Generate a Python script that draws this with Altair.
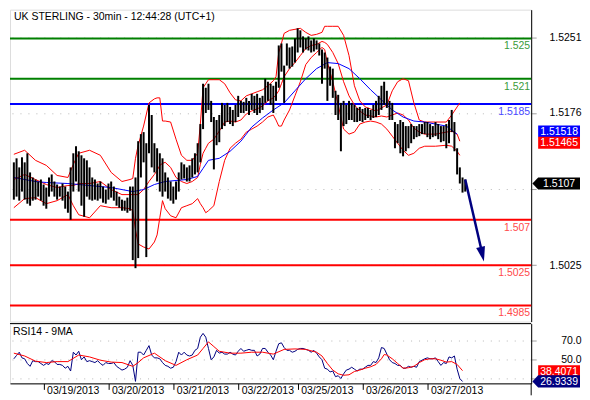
import altair as alt
import pandas as pd

FONT = "Liberation Sans"
TITLE = "UK STERLING - 30min - 12:44:28 (UTC+1)"
RSI_TITLE = "RSI14 - 9MA"

# hourly price bars (hour index from start of the window)
HIGH = [1.5127, 1.5131, 1.5122, 1.5132, 1.5127, 1.5136, 1.5117, 1.5112, 1.5110, 1.5108,
        1.5110, 1.5105, 1.5102, 1.5112, 1.5115, 1.5108, 1.5105, 1.5103, 1.5106, 1.5103,
        1.5098, 1.5122, 1.5136, 1.5143, 1.5138, 1.5134, 1.5131, 1.5129, 1.5122, 1.5112,
        1.5110, 1.5106, 1.5108, 1.5103, 1.5100, 1.5106, 1.5108, 1.5103, 1.5098, 1.5093,
        1.5090, 1.5089, 1.5092, 1.5103, 1.5103, 1.5112, 1.5148, 1.5155, 1.5157, 1.5146,
        1.5184, 1.5174, 1.5146, 1.5141, 1.5136, 1.5131, 1.5117, 1.5112, 1.5108, 1.5103,
        1.5108, 1.5117, 1.5127, 1.5125, 1.5122, 1.5124, 1.5131, 1.5136, 1.5146, 1.5165,
        1.5205, 1.5201, 1.5205, 1.5188, 1.5172, 1.5169, 1.5174, 1.5186, 1.5184, 1.5186,
        1.5182, 1.5179, 1.5184, 1.5193, 1.5188, 1.5187, 1.5191, 1.5188, 1.5195, 1.5193,
        1.5195, 1.5191, 1.5193, 1.5210, 1.5207, 1.5205, 1.5203, 1.5207, 1.5243, 1.5245,
        1.5223, 1.5245, 1.5241, 1.5242, 1.5250, 1.5260, 1.5258, 1.5252, 1.5250, 1.5252,
        1.5248, 1.5250, 1.5248, 1.5245, 1.5239, 1.5236, 1.5231, 1.5222, 1.5220, 1.5198,
        1.5194, 1.5186, 1.5188, 1.5184, 1.5188, 1.5186, 1.5184, 1.5181, 1.5182, 1.5180,
        1.5181, 1.5181, 1.5179, 1.5184, 1.5188, 1.5193, 1.5203, 1.5207, 1.5198, 1.5188,
        1.5186, 1.5167, 1.5165, 1.5169, 1.5167, 1.5163, 1.5163, 1.5165, 1.5163, 1.5163,
        1.5165, 1.5165, 1.5167, 1.5167, 1.5165, 1.5163, 1.5167, 1.5165, 1.5163, 1.5163,
        1.5165, 1.5169, 1.5179, 1.5167, 1.5141, 1.5122, 1.5112, 1.5110]
LOW = [1.5090, 1.5093, 1.5089, 1.5098, 1.5090, 1.5086, 1.5084, 1.5089, 1.5090, 1.5093,
       1.5089, 1.5084, 1.5081, 1.5093, 1.5098, 1.5093, 1.5090, 1.5093, 1.5089, 1.5081,
       1.5077, 1.5070, 1.5098, 1.5108, 1.5098, 1.5084, 1.5073, 1.5093, 1.5090, 1.5089,
       1.5090, 1.5089, 1.5091, 1.5087, 1.5086, 1.5090, 1.5092, 1.5089, 1.5084, 1.5082,
       1.5079, 1.5079, 1.5077, 1.5079, 1.5030, 1.5022, 1.5032, 1.5112, 1.5127, 1.5033,
       1.5136, 1.5122, 1.5117, 1.5108, 1.5098, 1.5093, 1.5098, 1.5091, 1.5089, 1.5086,
       1.5090, 1.5098, 1.5110, 1.5111, 1.5108, 1.5108, 1.5112, 1.5115, 1.5117, 1.5127,
       1.5160, 1.5176, 1.5179, 1.5167, 1.5120, 1.5144, 1.5147, 1.5160, 1.5163, 1.5167,
       1.5165, 1.5163, 1.5167, 1.5172, 1.5176, 1.5176, 1.5178, 1.5174, 1.5179, 1.5176,
       1.5174, 1.5176, 1.5179, 1.5186, 1.5188, 1.5184, 1.5176, 1.5188, 1.5201, 1.5217,
       1.5186, 1.5223, 1.5220, 1.5222, 1.5226, 1.5236, 1.5241, 1.5236, 1.5239, 1.5238,
       1.5236, 1.5237, 1.5239, 1.5233, 1.5205, 1.5220, 1.5188, 1.5203, 1.5191, 1.5174,
       1.5169, 1.5138, 1.5163, 1.5165, 1.5169, 1.5169, 1.5167, 1.5167, 1.5168, 1.5167,
       1.5169, 1.5171, 1.5169, 1.5171, 1.5172, 1.5174, 1.5179, 1.5184, 1.5181, 1.5169,
       1.5169, 1.5141, 1.5146, 1.5136, 1.5133, 1.5138, 1.5141, 1.5146, 1.5150, 1.5152,
       1.5153, 1.5155, 1.5155, 1.5152, 1.5150, 1.5152, 1.5153, 1.5150, 1.5147, 1.5148,
       1.5141, 1.5146, 1.5157, 1.5138, 1.5115, 1.5106, 1.5097, 1.5098]
HOURS = list(range(len(HIGH)))

# Bollinger bands (red)
BAND_H = [0, 4, 8, 12, 16, 20, 22, 24, 28, 32,
          36, 40, 43, 44, 45, 46, 48, 50, 52, 53,
          54, 55, 56, 58, 60, 62, 64, 66, 68, 69,
          70, 71, 72, 74, 76, 78, 80, 82, 84, 86,
          88, 90, 92, 94, 96, 97, 98, 99, 100, 102,
          104, 106, 108, 110, 112, 114, 115, 116, 118, 120,
          122, 124, 126, 128, 130, 132, 134, 136, 138, 140,
          142, 144, 146, 148, 150, 152, 156, 160, 162, 164, 165]
UPPER = [1.5135, 1.5139, 1.5129, 1.5124, 1.5114, 1.5112, 1.5125, 1.5136, 1.5139, 1.5134,
         1.5117, 1.5108, 1.5110, 1.5111, 1.5131, 1.5144, 1.5163, 1.5186, 1.5190, 1.5191,
         1.5191, 1.5168, 1.5168, 1.5167, 1.5150, 1.5134, 1.5129, 1.5129, 1.5136, 1.5165,
         1.5201, 1.5205, 1.5209, 1.5209, 1.5209, 1.5205, 1.5196, 1.5189, 1.5188, 1.5193,
         1.5195, 1.5197, 1.5199, 1.5203, 1.5208, 1.5212, 1.5236, 1.5245, 1.5255, 1.5258,
         1.5259, 1.5260, 1.5256, 1.5253, 1.5254, 1.5256, 1.5262, 1.5262, 1.5262, 1.5262,
         1.5253, 1.5233, 1.5203, 1.5188, 1.5182, 1.5180, 1.5178, 1.5181, 1.5184, 1.5198,
         1.5207, 1.5210, 1.5208, 1.5186, 1.5169, 1.5167, 1.5167, 1.5167, 1.5174, 1.5182, 1.5186]
MIDDLE = [1.5110, 1.5115, 1.5110, 1.5105, 1.5102, 1.5104, 1.5104, 1.5106, 1.5106, 1.5108,
          1.5100, 1.5095, 1.5095, 1.5095, 1.5095, 1.5095, 1.5100, 1.5108, 1.5115, 1.5119,
          1.5124, 1.5126, 1.5127, 1.5122, 1.5112, 1.5108, 1.5106, 1.5108, 1.5112, 1.5125,
          1.5136, 1.5141, 1.5146, 1.5150, 1.5158, 1.5167, 1.5168, 1.5167, 1.5169, 1.5175,
          1.5178, 1.5180, 1.5183, 1.5188, 1.5191, 1.5194, 1.5198, 1.5205, 1.5212, 1.5220,
          1.5226, 1.5233, 1.5240, 1.5243, 1.5244, 1.5247, 1.5246, 1.5244, 1.5236, 1.5225,
          1.5207, 1.5193, 1.5184, 1.5178, 1.5174, 1.5173, 1.5172, 1.5173, 1.5172, 1.5174,
          1.5176, 1.5174, 1.5169, 1.5161, 1.5157, 1.5155, 1.5155, 1.5157, 1.5158, 1.5155, 1.5148]
LOWER = [1.5082, 1.5091, 1.5092, 1.5086, 1.5089, 1.5095, 1.5084, 1.5075, 1.5072, 1.5084,
         1.5082, 1.5082, 1.5081, 1.5079, 1.5060, 1.5046, 1.5043, 1.5041, 1.5048, 1.5055,
         1.5072, 1.5089, 1.5081, 1.5074, 1.5072, 1.5082, 1.5084, 1.5086, 1.5091, 1.5086,
         1.5082, 1.5077, 1.5079, 1.5084, 1.5108, 1.5129, 1.5141, 1.5146, 1.5150, 1.5157,
         1.5160, 1.5163, 1.5167, 1.5172, 1.5174, 1.5169, 1.5163, 1.5163, 1.5169, 1.5179,
         1.5193, 1.5207, 1.5224, 1.5231, 1.5236, 1.5241, 1.5239, 1.5226, 1.5207, 1.5184,
         1.5160, 1.5155, 1.5157, 1.5165, 1.5167, 1.5168, 1.5167, 1.5165, 1.5160, 1.5153,
         1.5146, 1.5139, 1.5134, 1.5136, 1.5141, 1.5143, 1.5143, 1.5144, 1.5143, 1.5138, 1.5134]

# blue moving average
BLUE_H = [0, 4, 8, 12, 20, 28, 36, 44, 48, 52,
          56, 60, 64, 68, 70, 72, 76, 80, 84, 88,
          92, 96, 100, 104, 108, 112, 116, 120, 124, 128,
          132, 136, 140, 144, 148, 152, 156, 160, 164]
BLUE = [1.5112, 1.5110, 1.5108, 1.5107, 1.5106, 1.5104, 1.5102, 1.5098, 1.5100, 1.5105,
        1.5108, 1.5109, 1.5110, 1.5113, 1.5121, 1.5129, 1.5131, 1.5138, 1.5148, 1.5162,
        1.5171, 1.5179, 1.5186, 1.5198, 1.5210, 1.5220, 1.5226, 1.5225, 1.5220, 1.5210,
        1.5199, 1.5189, 1.5179, 1.5172, 1.5168, 1.5167, 1.5165, 1.5163, 1.5155]

LEVELS = [1.525, 1.521, 1.5185, 1.507, 1.5025, 1.4985]
LEVEL_TEXT = ["1.525", "1.521", "1.5185", "1.507", "1.5025", "1.4985"]
LEVEL_COLOR = ["#008000", "#008000", "#0000ff", "#ff0000", "#ff0000", "#ff0000"]
LEVEL_TEXT_COLOR = ["#3a9a3a", "#3a9a3a", "#4a4aff", "#ff4a4a", "#ff4a4a", "#ff4a4a"]
PRICE_TICKS = [1.5251, 1.5176, 1.5101, 1.5025]
PRICE_HIDDEN = 1.5101   # tick label covered by the last-price tag

ARROW_H = [167, 173.0]
ARROW_P = [1.5110, 1.5040]
ARROW_HEAD_H = [173.3]
ARROW_HEAD_P = [1.50358]

LAST_BLUE = 1.51518
LAST_RED = 1.51465
LAST_PRICE = 1.5107

RSI = [51, 54.6, 58, 52, 51, 46, 43, 49, 48, 48,
       46, 44, 46, 45, 49, 48, 45, 45, 44, 41,
       43, 38, 58, 55, 59, 50, 53, 48, 49, 48,
       47, 49, 46, 44, 47, 46, 46, 47, 43, 41,
       39, 40, 42, 49, 44, 27, 58, 58, 55, 60,
       65, 55, 52, 52, 51, 47, 44, 43, 41, 42,
       48, 58, 55, 58, 55, 54, 55, 60, 62, 74,
       78, 74, 62, 50, 53, 60, 57, 58, 56, 56,
       58, 56, 55, 59, 62, 59, 60, 61, 60, 60,
       54, 56, 62, 62, 58, 55, 50, 59, 67, 68,
       63, 60, 60, 58, 59, 61, 62, 62, 61, 60,
       58, 60, 57, 53, 50, 41, 40, 37, 38, 32,
       33, 30, 35, 39, 40, 42, 40, 38, 40, 40,
       42, 44, 44, 48, 47, 52, 63, 62, 56, 50,
       47, 46, 44, 44, 41, 41, 43, 42, 43, 42,
       48, 49.5, 51, 52, 51, 51, 52, 48, 44, 47,
       46, 53, 52, 54, 40, 30, 26.9]
RSI_MA_H = [0, 4, 8, 12, 16, 20, 24, 28, 32, 36,
            40, 44, 46, 48, 52, 56, 60, 64, 68, 70,
            72, 74, 76, 80, 84, 88, 92, 96, 100, 104,
            108, 112, 114, 116, 118, 120, 122, 124, 126, 128,
            130, 132, 134, 136, 137, 138, 140, 142, 144, 146,
            148, 150, 152, 154, 156, 158, 160, 162, 164, 166]
RSI_MA = [57, 54, 48.5, 47, 48, 48, 55, 53, 49.5, 47.5,
          47, 43, 47, 52, 57, 49, 44, 50, 55, 62,
          69, 64, 59, 57, 57, 58, 58, 56, 61, 61.5,
          61, 58, 54, 46, 39, 35, 33.5, 34, 37.5, 39,
          41, 42.5, 45, 51, 55.5, 55, 51, 46, 41, 41.5,
          43, 47, 50, 51, 51, 49.5, 47.5, 48, 45, 38.4]
RSI_TICKS = [30, 50, 70]
RSI_HIDDEN = 30   # tick label covered by the RSI tag
RSI_LAST = 26.9339
RSI_MA_LAST = 38.4071

DAY_H = [11, 35, 59, 83, 105, 129, 153]
DAY_LABELS = ["03/19/2013", "03/20/2013", "03/21/2013", "03/22/2013",
              "03/25/2013", "03/26/2013", "03/27/2013"]

# ---------------- layout ----------------
W = 523
H_MAIN = 313
H_RSI = 60
X_DOMAIN = [-1.43, 191.4]
P_DOMAIN = [1.4969, 1.52785]
RSI_DOMAIN = [24.87, 88.46]

RECT = "M-1,-0.286L1,-0.286L1,0.286L-1,0.286Z"
TAG = "M-1.275,0L-1,-0.29L1,-0.29L1,0.29L-1,0.29Z"
HEAD = "M-0.6,-1L0.6,-1L0,1Z"

xs = alt.Scale(domain=X_DOMAIN, nice=False, zero=False)
ps = alt.Scale(domain=P_DOMAIN, nice=False, zero=False)
rs = alt.Scale(domain=RSI_DOMAIN, nice=False, zero=False)

def right_axis(values, fmt, hidden):
    return alt.Axis(orient="right", values=values, title=None,
                    labelExpr=f"datum.value == {hidden} ? '' : format(datum.value, '{fmt}')",
                    labelAlign="right", labelBaseline="middle", labelPadding=45,
                    tickSize=5, tickColor="#a0a0a0", domainColor="#000000",
                    labelColor="#000000", labelFont=FONT, labelFontSize=10.5,
                    labelFlush=False, labelOverlap=False,
                    grid=True, gridColor="#b8b8b8", gridDash=[1, 7])

price_axis = right_axis(PRICE_TICKS, ".4f", PRICE_HIDDEN)
rsi_axis = right_axis(RSI_TICKS, ".1f", RSI_HIDDEN)

label_expr = " : ".join(f"datum.value == {h} ? '{t}'" for h, t in zip(DAY_H, DAY_LABELS)) + " : ''"
date_axis = alt.Axis(orient="bottom", values=DAY_H, labelExpr=label_expr, title=None,
                     tickSize=6, tickColor="#000000", domainColor="#000000",
                     labelAlign="left", labelBaseline="top", labelPadding=-4, labelOffset=3,
                     labelFont=FONT, labelFontSize=10.5, labelColor="#000000",
                     labelFlush=False, labelOverlap=False, grid=False)

X_MAIN = alt.X("h:Q", scale=xs, axis=None)
Y_P = alt.Y("p:Q", scale=ps, axis=price_axis)
X_RSI = alt.X("h:Q", scale=xs, axis=date_axis)
Y_V = alt.Y("v:Q", scale=rs, axis=rsi_axis)

# ---------------- main panel ----------------
bars_df = pd.DataFrame({"h": HOURS, "lo": LOW, "hi": HIGH})
bands_df = pd.concat([
    pd.DataFrame({"h": BAND_H, "p": UPPER, "band": "upper"}),
    pd.DataFrame({"h": BAND_H, "p": MIDDLE, "band": "middle"}),
    pd.DataFrame({"h": BAND_H, "p": LOWER, "band": "lower"}),
])
blue_df = pd.DataFrame({"h": BLUE_H, "p": BLUE})
levels_df = pd.DataFrame({"p": LEVELS, "t": LEVEL_TEXT, "c": LEVEL_COLOR, "tc": LEVEL_TEXT_COLOR})
arrow_df = pd.DataFrame({"h": ARROW_H, "p": ARROW_P})
head_df = pd.DataFrame({"h": ARROW_HEAD_H, "p": ARROW_HEAD_P})

level_lines = alt.Chart(levels_df).mark_rule(strokeWidth=2).encode(
    y=Y_P, color=alt.Color("c:N", scale=None))
level_text = alt.Chart(levels_df).mark_text(
    align="right", baseline="top", dy=3, font=FONT, fontSize=10.5).encode(
    x=alt.value(522), y=Y_P, text="t:N", color=alt.Color("tc:N", scale=None))
bands = alt.Chart(bands_df).mark_line(color="#ff0000", strokeWidth=1).encode(
    x=X_MAIN, y=Y_P, detail="band:N")
blue = alt.Chart(blue_df).mark_line(color="#0000ff", strokeWidth=1).encode(x=X_MAIN, y=Y_P)
bars = alt.Chart(bars_df).mark_rule(color="#000000", strokeWidth=2).encode(
    x=X_MAIN, y=alt.Y("lo:Q", scale=ps, axis=price_axis), y2="hi:Q")
arrow = alt.Chart(arrow_df).mark_line(color="#000080", strokeWidth=2.5).encode(x=X_MAIN, y=Y_P)
head = alt.Chart(head_df).mark_point(shape=HEAD, filled=True, size=225, angle=347,
                                     color="#000080", opacity=1, strokeWidth=0).encode(x=X_MAIN, y=Y_P)
title = alt.Chart(pd.DataFrame({"t": [TITLE]})).mark_text(
    align="left", baseline="alphabetic", font=FONT, fontSize=10.5, color="#000000").encode(
    x=alt.value(4), y=alt.value(10), text="t:N")

def tag(value, text, color, yoff, shape, yenc, field):
    df = pd.DataFrame({field: [value], "t": [text]})
    box = alt.Chart(df).mark_point(shape=shape, filled=True, size=1764, color=color,
                                   opacity=1, strokeWidth=0, yOffset=yoff).encode(
        x=alt.value(551), y=yenc)
    lab = alt.Chart(df).mark_text(color="#ffffff", font=FONT, fontSize=10.5, align="center",
                                  baseline="middle", yOffset=yoff + 0.5).encode(
        x=alt.value(551), y=yenc, text="t:N")
    return [box, lab]

main_layers = [level_lines, bands, blue, bars, arrow, head, level_text, title]
main_layers += tag(LAST_BLUE, "1.51518", "#0000ff", -6, RECT, Y_P, "p")
main_layers += tag(LAST_RED, "1.51465", "#ff0000", 0, RECT, Y_P, "p")
main_layers += tag(LAST_PRICE, "1.5107", "#000000", 1, TAG, Y_P, "p")
main = alt.layer(*main_layers).properties(width=W, height=H_MAIN)

# ---------------- RSI panel ----------------
rsi_df = pd.DataFrame({"h": list(range(len(RSI))), "v": RSI})
ma_df = pd.DataFrame({"h": RSI_MA_H, "v": RSI_MA})
one = pd.DataFrame({"k": [0]})

rsi_line = alt.Chart(rsi_df).mark_line(color="#000080", strokeWidth=1).encode(x=X_RSI, y=Y_V)
ma_line = alt.Chart(ma_df).mark_line(color="#ff0000", strokeWidth=1).encode(x=X_RSI, y=Y_V)
top_rule = alt.Chart(one).mark_rule(color="#000000", strokeWidth=1).encode(
    x=alt.value(0), x2=alt.value(W), y=alt.value(0))
tail_rule = alt.Chart(one).mark_rule(color="#000000", strokeWidth=1).encode(
    x=alt.value(W), y=alt.value(H_RSI), y2=alt.value(H_RSI + 12))
rsi_title = alt.Chart(pd.DataFrame({"t": [RSI_TITLE]})).mark_text(
    align="left", baseline="alphabetic", font=FONT, fontSize=10.5, color="#000000").encode(
    x=alt.value(3), y=alt.value(11), text="t:N")

rsi_layers = [rsi_line, ma_line, top_rule, tail_rule, rsi_title]
rsi_layers += tag(RSI_MA_LAST, "38.4071", "#ff0000", 0.5, RECT, Y_V, "v")
rsi_layers += tag(RSI_LAST, "26.9339", "#000080", 0, TAG, Y_V, "v")
rsi = alt.layer(*rsi_layers).properties(width=W, height=H_RSI)

chart = alt.vconcat(main, rsi, spacing=0, padding=0).resolve_scale(
    x="independent", y="independent").configure_view(strokeWidth=0).configure(background="#ffffff")

chart.save("out.html", embed_options={"renderer": "svg", "actions": False})
